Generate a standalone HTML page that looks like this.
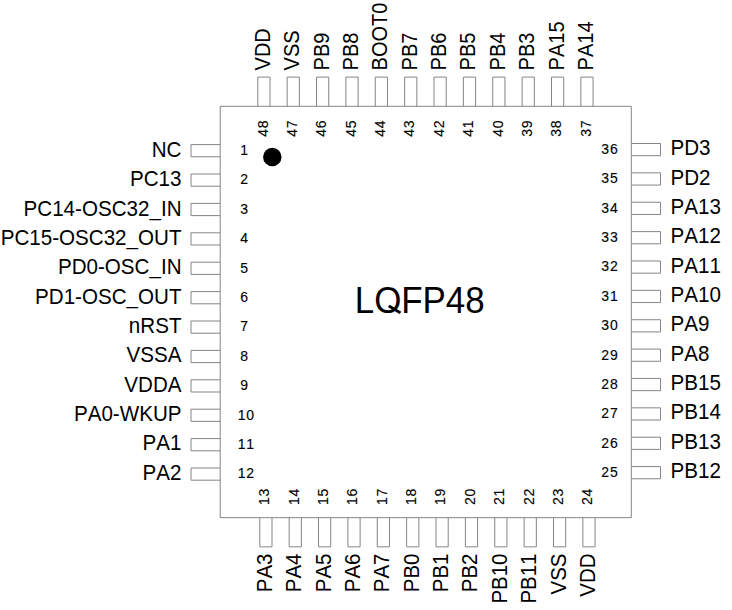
<!DOCTYPE html>
<html><head><meta charset="utf-8"><style>html,body{margin:0;padding:0;background:#fff;width:732px;height:610px;overflow:hidden}svg{display:block}text{font-kerning:none}</style></head><body><svg width="732" height="610" viewBox="0 0 732 610">
<path d="M220.2 106.3H631.3V517.65H220.2ZM257.8 106.3V77.1H270V106.3M259.8 517.65V546.85H272V517.65M220.2 144.6H191V156.8H220.2M631.3 143.5H660.5V155.7H631.3M287.17 106.3V77.1H299.37V106.3M289.17 517.65V546.85H301.37V517.65M220.2 174H191V186.2H220.2M631.3 172.87H660.5V185.07H631.3M316.54 106.3V77.1H328.74V106.3M318.54 517.65V546.85H330.74V517.65M220.2 203.4H191V215.6H220.2M631.3 202.24H660.5V214.44H631.3M345.91 106.3V77.1H358.11V106.3M347.91 517.65V546.85H360.11V517.65M220.2 232.8H191V245H220.2M631.3 231.61H660.5V243.81H631.3M375.28 106.3V77.1H387.48V106.3M377.28 517.65V546.85H389.48V517.65M220.2 262.2H191V274.4H220.2M631.3 260.98H660.5V273.18H631.3M404.65 106.3V77.1H416.85V106.3M406.65 517.65V546.85H418.85V517.65M220.2 291.6H191V303.8H220.2M631.3 290.35H660.5V302.55H631.3M434.02 106.3V77.1H446.22V106.3M436.02 517.65V546.85H448.22V517.65M220.2 321H191V333.2H220.2M631.3 319.72H660.5V331.92H631.3M463.39 106.3V77.1H475.59V106.3M465.39 517.65V546.85H477.59V517.65M220.2 350.4H191V362.6H220.2M631.3 349.09H660.5V361.29H631.3M492.76 106.3V77.1H504.96V106.3M494.76 517.65V546.85H506.96V517.65M220.2 379.8H191V392H220.2M631.3 378.46H660.5V390.66H631.3M522.13 106.3V77.1H534.33V106.3M524.13 517.65V546.85H536.33V517.65M220.2 409.2H191V421.4H220.2M631.3 407.83H660.5V420.03H631.3M551.5 106.3V77.1H563.7V106.3M553.5 517.65V546.85H565.7V517.65M220.2 438.6H191V450.8H220.2M631.3 437.2H660.5V449.4H631.3M580.87 106.3V77.1H593.07V106.3M582.87 517.65V546.85H595.07V517.65M220.2 468H191V480.2H220.2M631.3 466.57H660.5V478.77H631.3" fill="none" stroke="#858585" stroke-width="1.0"/>
<g font-family="Liberation Sans, sans-serif" font-size="20.6" fill="#000"><text transform="translate(269.9 70.4) rotate(-90) scale(1 1.1)" font-size="20.0">VDD</text><text text-anchor="end" transform="translate(271.9 553.5) rotate(-90) scale(1 1.1)" font-size="20.5">PA3</text><text text-anchor="end" transform="translate(181.5 157.04) scale(1 1.06)">NC</text><text transform="translate(670.5 155.3) scale(1 1.06)">PD3</text><text transform="translate(299.27 70.4) rotate(-90) scale(1 1.1)" font-size="20.0">VSS</text><text text-anchor="end" transform="translate(301.27 553.5) rotate(-90) scale(1 1.1)" font-size="20.5">PA4</text><text text-anchor="end" transform="translate(181.5 186.36) scale(1 1.06)">PC13</text><text transform="translate(670.5 184.65) scale(1 1.06)">PD2</text><text transform="translate(328.64 70.4) rotate(-90) scale(1 1.1)" font-size="20.0">PB9</text><text text-anchor="end" transform="translate(330.64 553.5) rotate(-90) scale(1 1.1)" font-size="20.5">PA5</text><text text-anchor="end" transform="translate(181.5 215.68) scale(1 1.06)">PC14-OSC32_IN</text><text transform="translate(670.5 214) scale(1 1.06)">PA13</text><text transform="translate(358.01 70.4) rotate(-90) scale(1 1.1)" font-size="20.0">PB8</text><text text-anchor="end" transform="translate(360.01 553.5) rotate(-90) scale(1 1.1)" font-size="20.5">PA6</text><text text-anchor="end" transform="translate(181.5 245) scale(1 1.06)">PC15-OSC32_OUT</text><text transform="translate(670.5 243.35) scale(1 1.06)">PA12</text><text transform="translate(387.38 70.4) rotate(-90) scale(1 1.1)" font-size="20.0">BOOT0</text><text text-anchor="end" transform="translate(389.38 553.5) rotate(-90) scale(1 1.1)" font-size="20.5">PA7</text><text text-anchor="end" transform="translate(181.5 274.32) scale(1 1.06)">PD0-OSC_IN</text><text transform="translate(670.5 272.7) scale(1 1.06)">PA11</text><text transform="translate(416.75 70.4) rotate(-90) scale(1 1.1)" font-size="20.0">PB7</text><text text-anchor="end" transform="translate(418.75 553.5) rotate(-90) scale(1 1.1)" font-size="20.5">PB0</text><text text-anchor="end" transform="translate(181.5 303.64) scale(1 1.06)">PD1-OSC_OUT</text><text transform="translate(670.5 302.05) scale(1 1.06)">PA10</text><text transform="translate(446.12 70.4) rotate(-90) scale(1 1.1)" font-size="20.0">PB6</text><text text-anchor="end" transform="translate(448.12 553.5) rotate(-90) scale(1 1.1)" font-size="20.5">PB1</text><text text-anchor="end" transform="translate(181.5 332.96) scale(1 1.06)">nRST</text><text transform="translate(670.5 331.4) scale(1 1.06)">PA9</text><text transform="translate(475.49 70.4) rotate(-90) scale(1 1.1)" font-size="20.0">PB5</text><text text-anchor="end" transform="translate(477.49 553.5) rotate(-90) scale(1 1.1)" font-size="20.5">PB2</text><text text-anchor="end" transform="translate(181.5 362.28) scale(1 1.06)">VSSA</text><text transform="translate(670.5 360.75) scale(1 1.06)">PA8</text><text transform="translate(504.86 70.4) rotate(-90) scale(1 1.1)" font-size="20.0">PB4</text><text text-anchor="end" transform="translate(506.86 553.5) rotate(-90) scale(1 1.1)" font-size="20.5">PB10</text><text text-anchor="end" transform="translate(181.5 391.6) scale(1 1.06)">VDDA</text><text transform="translate(670.5 390.1) scale(1 1.06)">PB15</text><text transform="translate(534.23 70.4) rotate(-90) scale(1 1.1)" font-size="20.0">PB3</text><text text-anchor="end" transform="translate(536.23 553.5) rotate(-90) scale(1 1.1)" font-size="20.5">PB11</text><text text-anchor="end" transform="translate(181.5 420.92) scale(1 1.06)">PA0-WKUP</text><text transform="translate(670.5 419.45) scale(1 1.06)">PB14</text><text transform="translate(563.6 70.4) rotate(-90) scale(1 1.1)" font-size="20.0">PA15</text><text text-anchor="end" transform="translate(565.6 553.5) rotate(-90) scale(1 1.1)" font-size="20.5">VSS</text><text text-anchor="end" transform="translate(181.5 450.24) scale(1 1.06)">PA1</text><text transform="translate(670.5 448.8) scale(1 1.06)">PB13</text><text transform="translate(592.97 70.4) rotate(-90) scale(1 1.1)" font-size="20.0">PA14</text><text text-anchor="end" transform="translate(594.97 553.5) rotate(-90) scale(1 1.1)" font-size="20.5">VDD</text><text text-anchor="end" transform="translate(181.5 479.56) scale(1 1.06)">PA2</text><text transform="translate(670.5 478.15) scale(1 1.06)">PB12</text></g>
<g font-family="Liberation Sans, sans-serif" font-size="14" letter-spacing="0.8" text-anchor="middle" fill="#000" stroke="#000" stroke-width="0.12"><text transform="translate(267.55 128.2) rotate(-90) scale(1 1.05)">48</text><text transform="translate(269.25 496.4) rotate(-90) scale(1 1.05)">13</text><text x="244.6" y="155">1</text><text x="609.9" y="154">36</text><text transform="translate(296.92 128.2) rotate(-90) scale(1 1.05)">47</text><text transform="translate(298.62 496.4) rotate(-90) scale(1 1.05)">14</text><text x="244.6" y="184.4">2</text><text x="609.9" y="183.37">35</text><text transform="translate(326.29 128.2) rotate(-90) scale(1 1.05)">46</text><text transform="translate(327.99 496.4) rotate(-90) scale(1 1.05)">15</text><text x="244.6" y="213.8">3</text><text x="609.9" y="212.74">34</text><text transform="translate(355.66 128.2) rotate(-90) scale(1 1.05)">45</text><text transform="translate(357.36 496.4) rotate(-90) scale(1 1.05)">16</text><text x="244.6" y="243.2">4</text><text x="609.9" y="242.11">33</text><text transform="translate(385.03 128.2) rotate(-90) scale(1 1.05)">44</text><text transform="translate(386.73 496.4) rotate(-90) scale(1 1.05)">17</text><text x="244.6" y="272.6">5</text><text x="609.9" y="271.48">32</text><text transform="translate(414.4 128.2) rotate(-90) scale(1 1.05)">43</text><text transform="translate(416.1 496.4) rotate(-90) scale(1 1.05)">18</text><text x="244.6" y="302">6</text><text x="609.9" y="300.85">31</text><text transform="translate(443.77 128.2) rotate(-90) scale(1 1.05)">42</text><text transform="translate(445.47 496.4) rotate(-90) scale(1 1.05)">19</text><text x="244.6" y="331.4">7</text><text x="609.9" y="330.22">30</text><text transform="translate(473.14 128.2) rotate(-90) scale(1 1.05)">41</text><text transform="translate(474.84 496.4) rotate(-90) scale(1 1.05)">20</text><text x="244.6" y="360.8">8</text><text x="609.9" y="359.59">29</text><text transform="translate(502.51 128.2) rotate(-90) scale(1 1.05)">40</text><text transform="translate(504.21 496.4) rotate(-90) scale(1 1.05)">21</text><text x="244.6" y="390.2">9</text><text x="609.9" y="388.96">28</text><text transform="translate(531.88 128.2) rotate(-90) scale(1 1.05)">39</text><text transform="translate(533.58 496.4) rotate(-90) scale(1 1.05)">22</text><text x="246.25" y="419.6">10</text><text x="609.9" y="418.33">27</text><text transform="translate(561.25 128.2) rotate(-90) scale(1 1.05)">38</text><text transform="translate(562.95 496.4) rotate(-90) scale(1 1.05)">23</text><text x="246.25" y="449">11</text><text x="609.9" y="447.7">26</text><text transform="translate(590.62 128.2) rotate(-90) scale(1 1.05)">37</text><text transform="translate(592.32 496.4) rotate(-90) scale(1 1.05)">24</text><text x="246.25" y="478.4">12</text><text x="609.9" y="477.07">25</text></g>
<text transform="translate(354.8 312.6) scale(1 1.08)" font-family="Liberation Sans, sans-serif" font-size="34.87">LOFP48</text>
<polygon points="389.7,304.8 401.3,311.8 399.6,314.1 387.9,307.1" fill="#000"/>
<circle cx="272.3" cy="157" r="9.25" fill="#000"/>
</svg></body></html>
